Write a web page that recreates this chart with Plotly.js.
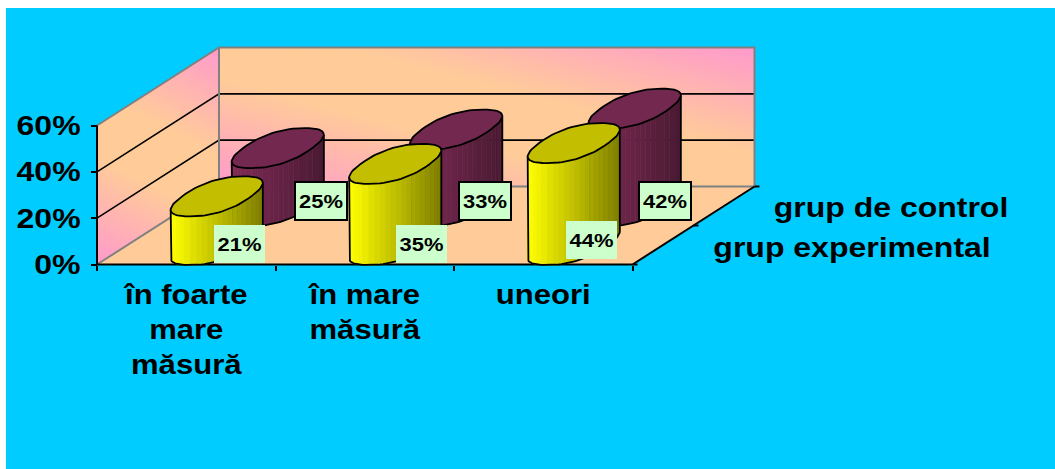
<!DOCTYPE html>
<html>
<head>
<meta charset="utf-8">
<script src="https://cdn.plot.ly/plotly-3.0.1.min.js"></script>
<style>html,body{margin:0;padding:0;background:#fff}#chart{width:1055px;height:469px}</style>
</head>
<body>
<div id="chart"></div>
<script>
// ---- data ----
const categories = ['în foarte<br>mare<br>măsură', 'în mare<br>măsură', 'uneori'];
const seriesControl = 'grup de control';
const seriesExperimental = 'grup experimental';
const controlValues = [25, 33, 42];
const experimentalValues = [21, 35, 44];
const valueTicks = [0, 20, 40, 60];
const valueTickLabels = ['0%', '20%', '40%', '60%'];

// ---- oblique 3D scale ----
const W = 1055, H = 469, ML = 6, MT = 8;
const X0 = 97, Y0 = 264.5, PXCAT = 178.5, PXVAL = 139 / 60;
const DDX = 122, DDY = 78;
const xOf = px => (px - X0) / PXCAT;
const yOf = py => (Y0 - py) / PXVAL;
// category position, value, depth -> data coords of the flat axes
const P = (c, v, d) => [c + d * DDX / PXCAT, v + d * DDY / PXVAL];

const traces = [];
function poly(pts, fill, line, lw) {
  traces.push({
    type: 'scatter', mode: 'lines', x: pts.map(p => p[0]), y: pts.map(p => p[1]),
    fill: fill ? 'toself' : 'none', fillcolor: fill || undefined,
    line: {color: line || fill, width: lw === undefined ? 0.6 : lw},
    hoverinfo: 'skip', showlegend: false, cliponaxis: false
  });
}
const mix = (a, b, t) => 'rgb(' + a.map((v, i) => Math.round(v + (b[i] - v) * t)).join(',') + ')';

// ---- walls ----
const PINK = [255, 153, 204], ORANGE = [255, 204, 153];
function clipHalf(poly2, lim) {
  const out = [];
  for (let i = 0; i < poly2.length; i++) {
    const a = poly2[i], b = poly2[(i + 1) % poly2.length];
    const fa = a[0] + a[1] - lim, fb = b[0] + b[1] - lim;
    if (fa >= 0) out.push(a);
    if (fa * fb < 0) { const t = fa / (fa - fb); out.push([a[0] + (b[0] - a[0]) * t, a[1] + (b[1] - a[1]) * t]); }
  }
  return out;
}
function gradientWall(map) {
  const N = 50;
  for (let i = 0; i < N; i++) {
    const g1 = i / N, g = (i + 0.5) / N;
    const q = i === 0 ? [[0, 0], [1, 0], [1, 1], [0, 1]] : clipHalf([[0, 0], [1, 0], [1, 1], [0, 1]], 2 * g1);
    if (q.length < 3) continue;
    const f = Math.min(1, (1 - Math.abs(2 * g - 1)) * 1.3);
    poly(q.map(p => map(p[0], p[1])).concat([map(q[0][0], q[0][1])]), mix(PINK, ORANGE, f), null, 0);
  }
}
const TOP = valueTicks[valueTicks.length - 1];
// floor
poly([P(0, 0, 0), P(3, 0, 0), P(3, 0, 1), P(0, 0, 1), P(0, 0, 0)], 'rgb(255,204,153)');
// side wall and back wall
gradientWall((s, h) => P(0, h * TOP, s));
gradientWall((s, h) => P(s * 3, h * TOP, 1));
// gridlines
valueTicks.slice(1, -1).forEach(v => {
  poly([P(0, v, 0), P(0, v, 1), P(3, v, 1)], null, '#000', 1.6);
});
// grey frame
const GREY = '#808080';
poly([P(0, TOP, 0), P(0, TOP, 1), P(3, TOP, 1), P(3, 0, 1), P(0, 0, 1), P(0, 0, 0)], null, GREY, 2);
poly([P(0, 0, 1), P(0, TOP, 1)], null, GREY, 2);
// black axes
poly([P(0, 0, 0), P(0, TOP, 0)], null, '#000', 2);
poly([P(0, 0, 0), P(3, 0, 0), P(3, 0, 1)], null, '#000', 2);
[0, 0.5, 1].forEach(d => {
  const p = P(3, 0, d);
  poly([p, [p[0] + 5 / PXCAT, p[1]]], null, '#000', 2);
});

// ---- cylinders ----
function cylinder(idx, depth, value, colLeft, colRight, colTop) {
  const a = 34.6 / PXCAT, b = 26.9 / PXCAT, c = 20 / PXVAL;
  const base = P(idx + 0.5, 0, depth);
  const sp = x => Math.sign(x) * Math.pow(Math.abs(x), 0.85);
  const pt = (t, v) => {
    const ct = sp(Math.cos(t)), st = sp(Math.sin(t));
    return [base[0] + a * ct + b * st, v + base[1] + c * st];
  };
  const t0 = Math.atan2(b, a);
  const N = 24;
  const ext = Math.hypot(a, b) * 1.03;
  for (let i = 0; i < N; i++) {
    const t1 = t0 + Math.PI + Math.PI * i / N, t2 = t0 + Math.PI + Math.PI * (i + 1) / N;
    const frac = Math.max(0, Math.min(1, (pt((t1 + t2) / 2, 0)[0] - (base[0] - ext)) / (2 * ext)));
    const pts = [];
    for (let k = 0; k <= 3; k++) pts.push(pt(t1 + (t2 - t1) * k / 3, value));
    for (let k = 3; k >= 0; k--) pts.push(pt(t1 + (t2 - t1) * k / 3, 0));
    pts.push(pts[0]);
    poly(pts, mix(colLeft, colRight, frac));
  }
  // silhouette
  const sil = [];
  for (let i = 0; i <= 48; i++) sil.push(pt(t0 + Math.PI + Math.PI * i / 48, 0));
  sil.unshift(pt(t0 + Math.PI, value));
  sil.push(pt(t0 + 2 * Math.PI, value));
  poly(sil, null, '#000', 1.8);
  // top ellipse
  const top = [];
  for (let i = 0; i <= 72; i++) top.push(pt(2 * Math.PI * i / 72, value));
  poly(top, colTop, '#000', 1.8);
}
const MAROON_L = [128, 44, 86], MAROON_R = [74, 26, 52], MAROON_T = 'rgb(115,40,80)';
const YEL_L = [255, 255, 0], YEL_R = [128, 128, 0], YEL_T = 'rgb(196,190,0)';
controlValues.forEach((v, i) => cylinder(i, 0.75, v, MAROON_L, MAROON_R, MAROON_T));
experimentalValues.forEach((v, i) => cylinder(i, 0.25, v, YEL_L, YEL_R, YEL_T));

// ---- annotations ----
const annotations = [];
const controlLabelPx = [[320.5, 200.5], [484.5, 200.5], [665, 200.5]];
const experimentalLabelPx = [[239.5, 244], [421.5, 244], [591.5, 240]];
const labelFont = {family: 'Liberation Sans, Arial, sans-serif', size: 18.5, color: '#000', weight: 700};
function dataLabel(v, p, border) {
  annotations.push({
    xref: 'x', yref: 'y', x: xOf(p[0]), y: yOf(p[1]), text: v + '%', showarrow: false,
    width: border ? 50 : 51, height: border ? 36 : 38, borderpad: 0,
    bgcolor: '#CCFFCC', bordercolor: '#000', borderwidth: border ? 2 : 0,
    font: labelFont, xanchor: 'center', yanchor: 'middle', align: 'center', valign: 'middle'
  });
}
controlValues.forEach((v, i) => dataLabel(v, controlLabelPx[i], true));
experimentalValues.forEach((v, i) => dataLabel(v, experimentalLabelPx[i], false));
const axisFont = {family: 'Liberation Sans, Arial, sans-serif', size: 27, color: '#000', weight: 700};
function seriesLabel(t, px, py) {
  annotations.push({
    xref: 'x', yref: 'y', x: xOf(px), y: yOf(py), text: t, showarrow: false,
    font: axisFont, xanchor: 'center', yanchor: 'middle'
  });
}
seriesLabel(seriesControl, 891, 208);
seriesLabel(seriesExperimental, 851.5, 248);

const layout = {
  width: W, height: H,
  margin: {l: ML, t: MT, r: 0, b: 0, pad: 0},
  paper_bgcolor: '#fff', plot_bgcolor: '#00CCFF',
  showlegend: false, hovermode: false,
  xaxis: {
    range: [xOf(ML), xOf(W)], anchor: 'free', position: (H - Y0) / (H - MT),
    tickmode: 'array', tickvals: categories.map((c, i) => i + 0.5), ticktext: categories,
    ticks: '', showline: false, showgrid: false, zeroline: false, tickfont: axisFont,
    ticklabelstandoff: 11,
    minor: {tickmode: 'array', tickvals: [0, 1, 2, 3], ticks: 'outside', ticklen: 5, tickwidth: 2, tickcolor: '#000', showgrid: false}
  },
  yaxis: {
    range: [yOf(H), yOf(MT)], anchor: 'free', position: (X0 - ML) / (W - ML),
    tickmode: 'array', tickvals: valueTicks, ticktext: valueTickLabels,
    ticks: 'outside', ticklen: 6, tickwidth: 2, tickcolor: '#000',
    showline: false, showgrid: false, zeroline: false, tickfont: axisFont,
    ticklabelstandoff: 5
  },
  annotations: annotations
};

// the reference's lettering is horizontally wide: widen the drawn text the same way
function widen() {
  document.querySelectorAll('#chart svg text').forEach(t => {
    const k = t.classList.contains('xtick') || t.closest('.xtick') ? 1.15 : 1.185;
    const lines = t.querySelectorAll('tspan.line');
    (lines.length ? Array.from(lines) : [t]).forEach(el => {
      el.removeAttribute('textLength');
      const len = el.getComputedTextLength();
      if (len > 0) {
        el.setAttribute('textLength', (len * k).toFixed(1));
        el.setAttribute('lengthAdjust', 'spacingAndGlyphs');
      }
    });
  });
}
Plotly.newPlot('chart', traces, layout, {displayModeBar: false, staticPlot: true}).then(widen);
</script>
</body>
</html>
